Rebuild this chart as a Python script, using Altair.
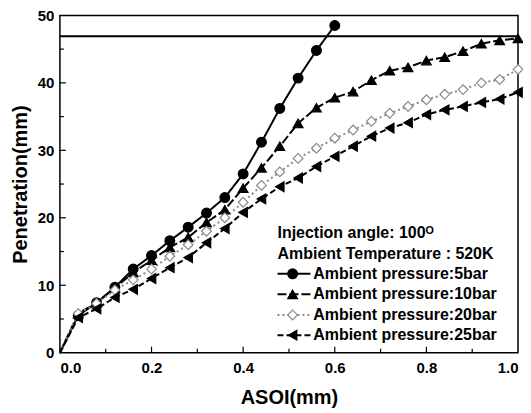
import altair as alt
import pandas as pd

# ---------------- data ----------------
asoi = [0.00, 0.04, 0.08, 0.12, 0.16, 0.20, 0.24, 0.28, 0.32, 0.36, 0.40, 0.44, 0.48,
        0.52, 0.56, 0.60, 0.64, 0.68, 0.72, 0.76, 0.80, 0.84, 0.88, 0.92, 0.96, 1.00]
p5 = [0, 5.5, 7.4, 9.7, 12.4, 14.4, 16.6, 18.6, 20.7, 23.0, 26.5, 31.2, 36.2, 40.7, 44.8, 48.5]
p10 = [0, 5.8, 7.4, 9.6, 11.9, 13.7, 15.6, 17.1, 19.3, 21.2, 24.4, 27.4, 30.6, 34.0, 36.3,
       37.8, 38.7, 40.4, 41.8, 42.3, 43.3, 43.8, 44.7, 45.8, 46.3, 46.6]
p20 = [0, 5.8, 7.3, 9.3, 10.8, 12.4, 14.3, 16.0, 18.0, 20.0, 22.3, 24.8, 26.8, 28.8, 30.3,
       31.8, 33.0, 34.3, 35.5, 36.5, 37.5, 38.3, 39.0, 40.0, 40.5, 42.0]
p25 = [0, 5.2, 6.5, 8.2, 9.4, 11.0, 12.6, 14.1, 16.3, 18.4, 20.8, 22.8, 24.6, 25.9, 27.6,
       29.1, 30.6, 32.1, 33.3, 34.1, 35.3, 36.0, 36.5, 37.1, 37.6, 38.6]

series_names = ["Ambient pressure:5bar", "Ambient pressure:10bar",
                "Ambient pressure:20bar", "Ambient pressure:25bar"]
series_vals = [p5, p10, p20, p25]

hline_y = [46.9]

x_tick_values = [0.0, 0.2, 0.4, 0.6, 0.8, 1.0]
y_tick_values = [0, 10, 20, 30, 40, 50]
x_major = [0.2, 0.4, 0.6, 0.8]
x_minor = [0.1, 0.3, 0.5, 0.7, 0.9]
y_major = [10, 20, 30, 40]
y_minor = [5, 15, 25, 35, 45]

legend_head = ["Injection angle: 100ᴼ", "Ambient Temperature : 520K"]
legend_head_y = [17.75, 14.7]
legend_row_y = [11.7, 8.65, 5.6, 2.6]
legend_x = [0.475, 0.508, 0.547, 0.553]   # line start, marker, line end, text

# ---------------- tables ----------------
rows = []
for name, vals in zip(series_names, series_vals):
    for xv, yv in zip(asoi, vals):
        rows.append({"series": name, "x": xv, "y": yv})
df = pd.DataFrame(rows)
df_pts = df[df["x"] > 0]

leg = pd.DataFrame({"series": series_names, "y": legend_row_y,
                    "x": [legend_x[1]] * 4, "xs": [legend_x[0]] * 4,
                    "xe": [legend_x[2]] * 4, "xt": [legend_x[3]] * 4})
head = pd.DataFrame({"text": legend_head, "y": legend_head_y, "x": [legend_x[0]] * 2})

FONT = "Liberation Sans"

xs = alt.Scale(domain=[0, 1], nice=False, zero=False)
ys = alt.Scale(domain=[0, 50], nice=False)
xaxis = alt.Axis(values=x_tick_values, format=".1f", grid=False, ticks=False, domain=False,
                 labelFont=FONT, labelFontSize=15, labelFontWeight="bold", labelColor="black",
                 labelPadding=8, title="ASOI(mm)", titleFont=FONT, titleFontSize=20,
                 titleFontWeight="bold", titleColor="black", titlePadding=12)
yaxis = alt.Axis(values=y_tick_values, format="d", grid=False, ticks=False, domain=False,
                 labelFont=FONT, labelFontSize=15, labelFontWeight="bold", labelColor="black",
                 labelPadding=6, title="Penetration(mm)", titleFont=FONT, titleFontSize=20,
                 titleFontWeight="bold", titleColor="black", titlePadding=7)


def X(f="x"):
    return alt.X(f"{f}:Q", scale=xs, axis=xaxis)


def Y(f="y"):
    return alt.Y(f"{f}:Q", scale=ys, axis=yaxis)


color_s = alt.Scale(domain=series_names, range=["black", "black", "#8a8a8a", "black"])
fill_s = alt.Scale(domain=series_names, range=["black", "black", "white", "black"])
shape_s = alt.Scale(domain=series_names,
                    range=["circle", "triangle-up", "diamond", "triangle-left"])
dash_s = alt.Scale(domain=series_names, range=[[1, 0], [9, 3], [2, 3], [6, 3]])
width_s = alt.Scale(domain=series_names, range=[2, 2, 1.2, 2])

lines = alt.Chart(df).mark_line().encode(
    x=X(), y=Y(),
    color=alt.Color("series:N", scale=color_s, legend=None),
    strokeDash=alt.StrokeDash("series:N", scale=dash_s, legend=None),
    strokeWidth=alt.StrokeWidth("series:N", scale=width_s, legend=None),
    detail="series:N",
)

points = alt.Chart(df_pts).mark_point(filled=True, size=95, opacity=1, strokeWidth=1.2).encode(
    x=X(), y=Y(),
    shape=alt.Shape("series:N", scale=shape_s, legend=None),
    fill=alt.Fill("series:N", scale=fill_s, legend=None),
    stroke=alt.Stroke("series:N", scale=color_s, legend=None),
)

hline = alt.Chart(pd.DataFrame({"y": hline_y})).mark_rule(color="black", strokeWidth=2).encode(
    y=Y()
)

xt_major = alt.Chart(pd.DataFrame({"x": x_major})).mark_rule(color="black", strokeWidth=1.2).encode(
    x=X(), y=alt.value(338), y2=alt.value(332))
xt_minor = alt.Chart(pd.DataFrame({"x": x_minor})).mark_rule(color="black", strokeWidth=1.2).encode(
    x=X(), y=alt.value(338), y2=alt.value(334))
yt_major = alt.Chart(pd.DataFrame({"y": y_major})).mark_rule(color="black", strokeWidth=1.2).encode(
    y=Y(), x=alt.value(0), x2=alt.value(6))
yt_minor = alt.Chart(pd.DataFrame({"y": y_minor})).mark_rule(color="black", strokeWidth=1.2).encode(
    y=Y(), x=alt.value(0), x2=alt.value(4))

leg_lines = alt.Chart(leg).mark_rule().encode(
    x=X("xs"), x2="xe:Q", y=Y(),
    color=alt.Color("series:N", scale=color_s, legend=None),
    strokeDash=alt.StrokeDash("series:N", scale=dash_s, legend=None),
    strokeWidth=alt.StrokeWidth("series:N", scale=width_s, legend=None),
)
leg_pts = alt.Chart(leg).mark_point(filled=True, size=95, opacity=1, strokeWidth=1.2).encode(
    x=X(), y=Y(),
    shape=alt.Shape("series:N", scale=shape_s, legend=None),
    fill=alt.Fill("series:N", scale=fill_s, legend=None),
    stroke=alt.Stroke("series:N", scale=color_s, legend=None),
)
leg_text = alt.Chart(leg).mark_text(align="left", baseline="middle", font=FONT, fontSize=16,
                                    fontWeight="bold", color="black").encode(
    x=X("xt"), y=Y(), text="series:N")
head_text = alt.Chart(head).mark_text(align="left", baseline="middle", font=FONT, fontSize=16,
                                      fontWeight="bold", color="black").encode(
    x=X(), y=Y(), text="text:N")

chart = alt.layer(
    lines, points, hline, xt_major, xt_minor, yt_major, yt_minor,
    leg_lines, leg_pts, leg_text, head_text
).properties(
    width=459, height=338,
    autosize=alt.AutoSizeParams(type="none"),
    padding={"left": 52, "top": 7, "right": 5, "bottom": 58},
    background="white",
).configure_view(stroke="black", strokeWidth=1.5)

chart.save("out.html", embed_options={"renderer": "svg", "actions": False})
